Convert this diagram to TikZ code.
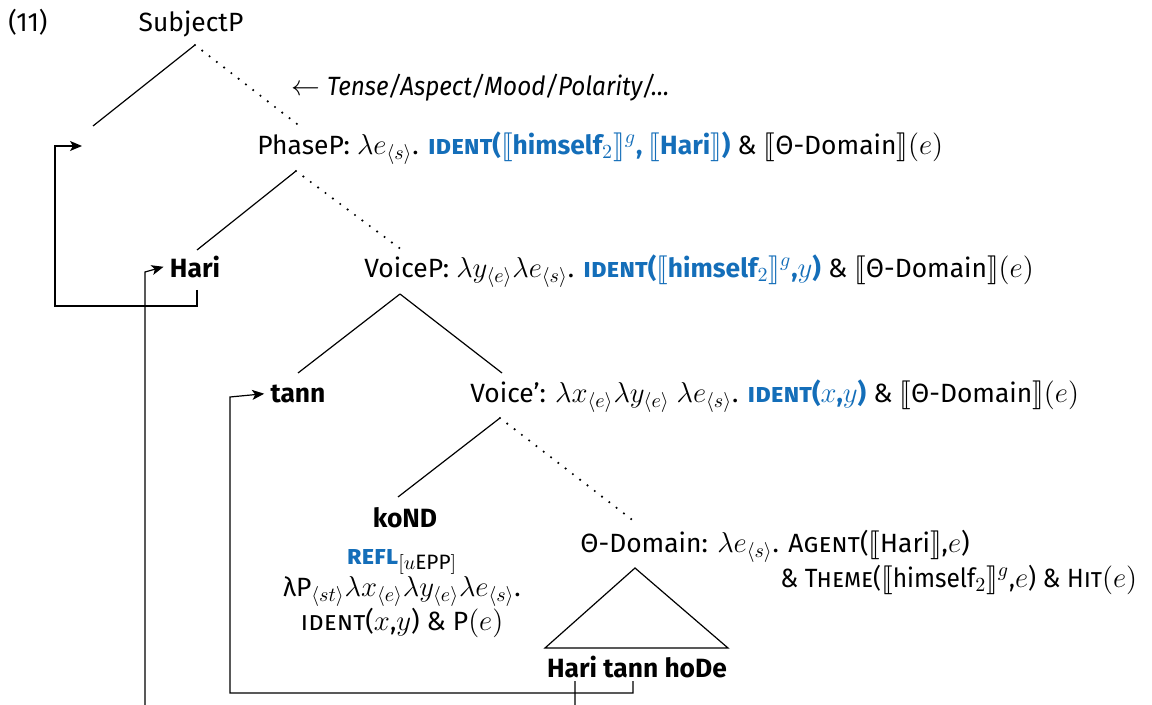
\documentclass[tikz,border=0pt]{standalone}
\usepackage{fontspec}
\setmainfont{Fira Sans}
\usepackage{stmaryrd}
\usetikzlibrary{arrows.meta}
\definecolor{idblue}{RGB}{20,110,185}
\DeclareMathSizes{13.2}{14.5}{10.4}{8}
\newcommand{\lb}{\ensuremath{\llbracket}}
\newcommand{\rb}{\ensuremath{\rrbracket}}
\newcommand{\sub}[1]{\ensuremath{_{\langle #1\rangle}}}
\newcommand{\treefont}{\fontsize{13.2}{15}\selectfont}
\tikzset{
  lbl/.style={inner sep=0pt, anchor=mid west},
  clbl/.style={inner sep=0pt, anchor=mid},
  wordlbl/.style={clbl, font=\treefont\bfseries},
  branch/.style={line width=0.6pt},
  dotbranch/.style={line width=1.2pt, line cap=round, dash pattern=on 0pt off 4.6pt},
  move/.style={line width=0.6pt, -{Stealth[length=6pt,width=5pt,inset=1.5pt]}}
}
\begin{document}
\begin{tikzpicture}[x=0.5pt,y=-0.5pt, font=\treefont]
\useasboundingbox (0,0) rectangle (1152,705);
\clip (0,0) rectangle (1152,705);

% example number and root
\node[lbl] (num) at (8,26) {(11)};
\node[clbl] (subj) at (191,26) {SubjectP};
\coordinate (sApex) at (195,45);
\coordinate (sL) at (93,126);
\coordinate (sR) at (297,124);
\coordinate (spec) at (82,146);
\draw[branch] (sApex) -- (sL);
\draw[dotbranch] (sApex) -- (sR);
\node[lbl] (tam) at (291,90) {$\leftarrow$ {\itshape\addfontfeature{FakeStretch=0.92}Tense/Aspect/Mood/Polarity/…}};

% PhaseP
\node[lbl] (phase) at (257,149) {PhaseP: $\lambda e\sub{s}$. {\color{idblue}\bfseries\textsc{ident}(\lb himself$_2$\rb$^g$, \lb Hari\rb)} \& \lb Θ-Domain\rb$(e)$};
\coordinate (pApex) at (296,171);
\coordinate (pL) at (197,250);
\coordinate (pR) at (402,250);
\draw[branch] (pApex) -- (pL);
\draw[dotbranch] (pApex) -- (pR);

% VoiceP
\node[wordlbl] (hari) at (195,272) {Hari};
\node[lbl] (voicep) at (364,272) {VoiceP: $\lambda y\sub{e}\lambda e\sub{s}$. {\color{idblue}\bfseries\textsc{ident}(\lb himself$_2$\rb$^g$,$y$)} \& \lb Θ-Domain\rb$(e)$};
\coordinate (vApex) at (400,294);
\coordinate (vL) at (298,373);
\coordinate (vR) at (502,373);
\draw[branch] (vApex) -- (vL);
\draw[branch] (vApex) -- (vR);

% Voice'
\node[wordlbl] (tann) at (298,397) {tann};
\node[lbl] (voicebar) at (470,397) {Voice': $\lambda x\sub{e}\lambda y\sub{e}$ $\lambda e\sub{s}$. {\color{idblue}\bfseries\textsc{ident}($x$,$y$)} \& \lb Θ-Domain\rb$(e)$};
\coordinate (bApex) at (500,418);
\coordinate (bL) at (398,497);
\coordinate (bR) at (635,522);
\draw[branch] (bApex) -- (bL);
\draw[dotbranch] (bApex) -- (bR);

% reflexive head and its denotation
\node[wordlbl] (kond) at (405,522) {koND};
\node[inner sep=0pt, anchor=north, align=center] (kdef) at (402,549)
  {{\color{idblue}\bfseries\textsc{refl}}$_{[u\mathrm{EPP}]}$\\
   λP\sub{st}$\lambda x\sub{e}\lambda y\sub{e}\lambda e\sub{s}$.\\
   \textsc{ident}($x$,$y$) \& P$(e)$};

% Theta-Domain
\node[lbl] (theta) at (580,547) {Θ-Domain: $\lambda e\sub{s}$. \textsc{Agent}(\lb Hari\rb,$e$)};
\node[lbl] (theta2) at (780,582) {\addfontfeature{FakeStretch=0.93}\& \textsc{Theme}(\lb himself$_2$\rb$^g$,$e$) \& \textsc{Hit}$(e)$};
\coordinate (tApex) at (635,568);
\coordinate (tBL) at (545,648);
\coordinate (tBR) at (728,648);
\draw[branch] (tApex) -- (tBL) -- (tBR) -- cycle;
\node[wordlbl] (str) at (637,672) {Hari tann hoDe};

% movement paths
\coordinate (hariLow) at (575,681);
\coordinate (tannLow) at (633,681);
\draw[move] (197,290) -- (197,306) -- (55,306) -- (55,146) -- (spec);
\draw[move] (hariLow) -- (575,730) -- (145,730) -- (145,272) -- ([xshift=-3pt]hari.west);
\draw[move] (tannLow) -- (633,693) -- (230,693) -- (230,397) -- ([xshift=-3pt]tann.west);
\end{tikzpicture}
\end{document}
